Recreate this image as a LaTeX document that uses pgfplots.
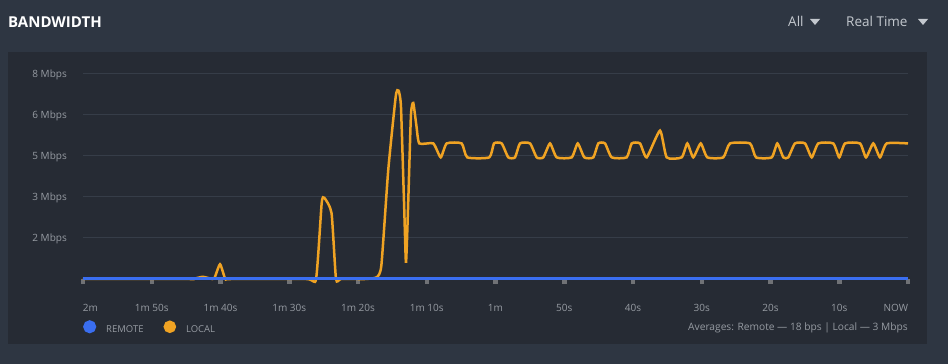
\documentclass[border=0pt]{standalone}
\usepackage{pgfplots}
\pgfplotsset{compat=1.18}
\usepackage{fontspec}
\setmainfont{Open Sans}
\definecolor{outerbg}{RGB}{46,54,66}
\definecolor{panelbg}{RGB}{38,43,52}
\definecolor{gridc}{RGB}{54,61,72}
\definecolor{labelc}{RGB}{150,155,162}
\definecolor{menuc}{RGB}{195,200,206}
\definecolor{tickc}{RGB}{112,114,118}
\definecolor{localc}{RGB}{240,163,35}
\definecolor{remotec}{RGB}{58,110,240}
\begin{document}
\begin{tikzpicture}[x=1pt,y=1pt]
\fill[outerbg] (0,0) rectangle (948,364);
\fill[panelbg] (8,20) rectangle (927,312);
\node[anchor=base west, text=white, font=\fontsize{15}{18}\selectfont\bfseries, inner sep=0pt] at (8,336) {BANDWIDTH};
\node[anchor=base west, text=menuc, font=\fontsize{13.5}{16}\selectfont, inner sep=0pt] at (788,337) {All};
\fill[menuc] (810,345) -- (820,345) -- (815,339) -- cycle;
\node[anchor=base west, text=menuc, font=\fontsize{13.5}{16}\selectfont, inner sep=0pt] at (846,337) {Real Time};
\fill[menuc] (918,345) -- (928,345) -- (923,339) -- cycle;
\begin{axis}[
  at={(83pt,85pt)}, anchor=south west, scale only axis,
  width=825pt, height=218.67pt,
  xmin=-120, xmax=0, ymin=0, ymax=8, clip=false,
  axis line style={draw=none},
  xtick={-120,-110,...,0},
  xticklabels={\rlap{2m},1m 50s,1m 40s,1m 30s,1m 20s,1m 10s,1m,50s,40s,30s,20s,10s,\llap{NOW}},
  ytick={1.5,3,4.5,6,7.5},
  yticklabels={2 Mbps,3 Mbps,5 Mbps,6 Mbps,8 Mbps},
  xtick pos=bottom, ytick pos=left,
  tick align=outside,
  xtick style={draw=tickc, line width=4.5pt},
  ytick style={draw=none},
  major tick length=5pt,
  ymajorgrids, grid style={draw=gridc, line width=1pt},
  ticklabel style={font=\fontsize{10}{12}\selectfont, text=labelc, inner sep=0pt},
  xticklabel style={anchor=base, yshift=-27.7pt},
  yticklabel style={anchor=base east, xshift=-11pt, yshift=-3.6pt},
  reverse legend,
  legend columns=2,
  legend style={at={(axis description cs:0,-0.2209)}, anchor=west, draw=none, fill=none, inner sep=0pt,
    nodes={inner sep=0pt, text=labelc, font=\fontsize{9.5}{11}\selectfont},
    /tikz/every odd column/.append style={column sep=10pt},
    /tikz/every even column/.append style={column sep=20pt}},
  legend image code/.code={\fill (5pt,3.4pt) circle (5pt);},
]
\addplot[color=localc, line width=2.5pt, smooth, tension=0.32] coordinates {
(-120,0) (-104.5,0) (-104.0,0) (-102.6,0.08) (-101.5,0.02) (-100.9,0.02)
(-100.07,0.54) (-99.3,0) (-98.5,0)
(-87.5,0) (-86.1,0) (-85.28,2.78) (-84.9,2.97) (-83.85,2.41) (-83.2,0) (-82.5,0)
(-80,0) (-79.0,0) (-77.3,0.06) (-76.6,0.5) (-75.6,3.99)
(-74.5,6.7) (-74.1,6.89) (-73.75,6.3) (-73.27,2.52) (-73.02,0.59)
(-72.72,2.6) (-72.3,6.0) (-71.96,6.44) (-71.5,5.6) (-71.08,4.96)
(-69.05,4.96) (-67.97,4.45) (-67.10,4.96) (-64.92,4.96) (-64.10,4.45) (-60.90,4.45)
(-60.22,4.96) (-59.10,4.96) (-58.14,4.45) (-57.16,4.45) (-56.44,4.96) (-54.98,4.96)
(-54.01,4.45) (-53.05,4.45) (-52.07,4.96) (-51.10,4.45) (-48.92,4.45) (-48.04,4.96)
(-47.08,4.45) (-45.77,4.45) (-45.05,4.96) (-44.07,4.96) (-43.10,4.45) (-40.92,4.45)
(-40.19,4.96) (-38.98,4.96) (-38.01,4.45) (-36.07,5.43) (-35.10,4.45) (-32.92,4.45)
(-32.10,4.96) (-31.24,4.45) (-30.15,4.96) (-29.19,4.45) (-26.87,4.45) (-25.89,4.96)
(-22.98,4.96) (-22.11,4.45) (-19.83,4.45) (-19.01,4.96) (-18.14,4.45) (-17.41,4.45)
(-16.44,4.96) (-14.98,4.96) (-14.01,4.45) (-13.05,4.96) (-10.87,4.96) (-10.00,4.45)
(-9.16,4.96) (-6.98,4.96) (-6.11,4.45) (-5.05,4.96) (-4.07,4.45) (-3.10,4.96) (0,4.96)
};
\addlegendentry{LOCAL}
\addplot[color=remotec, line width=3pt] coordinates {(-120,0) (-60,0) (0,0)};
\addlegendentry{REMOTE}
\end{axis}
\node[anchor=base east, text=labelc, font=\fontsize{10.2}{12}\selectfont, inner sep=0pt] at (908,33.5) {Averages: Remote — 18 bps | Local — 3 Mbps};
\pgfresetboundingbox
\useasboundingbox (0,0) rectangle (948,364);
\end{tikzpicture}
\end{document}
